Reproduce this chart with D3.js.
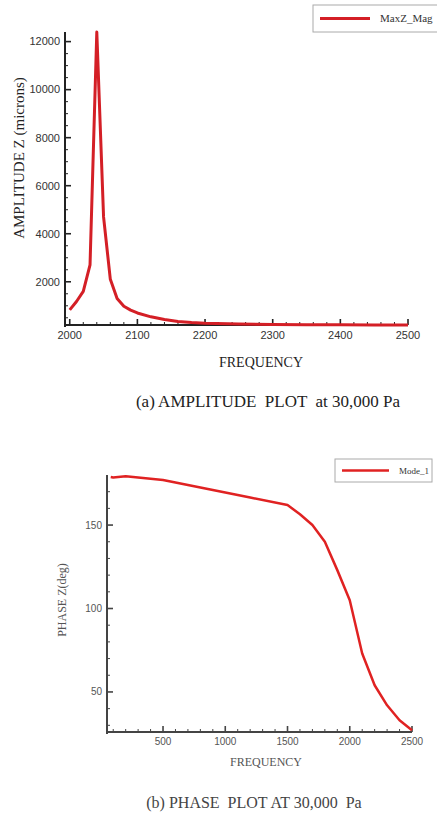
<!DOCTYPE html>
<html>
<head>
    <meta charset="utf-8">
    <script src="https://d3js.org/d3.v7.min.js"></script>
    <style>
        body { margin: 0; background: #fff; }
        .tick-label { font-family: "Liberation Sans", Arial, sans-serif; }
        .title { font-family: "Liberation Serif", serif; }
    </style>
</head>
<body>
    <script>
        // (a) amplitude data
        const ampFreq = [2000, 2010, 2020, 2030, 2040, 2050, 2060, 2070, 2080, 2090, 2100, 2120, 2140, 2160, 2180, 2200, 2250, 2300, 2350, 2400, 2450, 2500];
        const ampValue = [830, 1180, 1600, 2700, 12400, 4700, 2100, 1300, 980, 820, 700, 540, 430, 350, 300, 270, 240, 225, 215, 210, 205, 200];
        const ampXTicks = [2000, 2100, 2200, 2300, 2400, 2500];
        const ampYTicks = [2000, 4000, 6000, 8000, 10000, 12000];

        // (b) phase data
        const phaseFreq = [80, 100, 200, 500, 800, 1000, 1200, 1500, 1600, 1700, 1800, 1900, 2000, 2100, 2200, 2300, 2400, 2500];
        const phaseValue = [178.8, 178.5, 179.3, 177, 172.5, 169.5, 166.5, 162, 156.5, 150, 140, 123, 105, 73, 54, 42, 33, 27];
        const phaseXTicks = [500, 1000, 1500, 2000, 2500];
        const phaseYTicks = [50, 100, 150];

        const serif = "'Liberation Serif', 'Times New Roman', serif";

        const svg = d3.select("body").append("svg")
            .attr("width", 437)
            .attr("height", 814);

        function drawPanel(o) {
            const g = svg.append("g");
            const x = d3.scaleLinear().domain(o.xDomain).range(o.xRange);
            const y = d3.scaleLinear().domain(o.yDomain).range(o.yRange);
            const x0 = o.xRange[0], y0 = o.yRange[0];

            // minor ticks
            g.selectAll(".xminor").data(o.xMinor).enter().append("line")
                .attr("x1", d => x(d)).attr("x2", d => x(d))
                .attr("y1", y0).attr("y2", y0 - 3)
                .attr("stroke", o.axisColor).attr("stroke-width", 1);
            g.selectAll(".yminor").data(o.yMinor).enter().append("line")
                .attr("x1", x0).attr("x2", x0 + 3)
                .attr("y1", d => y(d)).attr("y2", d => y(d))
                .attr("stroke", o.axisColor).attr("stroke-width", 1);

            // major ticks
            g.selectAll(".xmajor").data(o.xTicks).enter().append("line")
                .attr("x1", d => x(d)).attr("x2", d => x(d))
                .attr("y1", y0).attr("y2", y0 - 6)
                .attr("stroke", o.axisColor).attr("stroke-width", 1.6);
            g.selectAll(".ymajor").data(o.yTicks).enter().append("line")
                .attr("x1", x0).attr("x2", x0 + 6)
                .attr("y1", d => y(d)).attr("y2", d => y(d))
                .attr("stroke", o.axisColor).attr("stroke-width", 1.6);

            // axis lines
            g.append("line")
                .attr("x1", x0).attr("x2", o.xRange[1])
                .attr("y1", y0).attr("y2", y0)
                .attr("stroke", o.axisColor).attr("stroke-width", 2);
            g.append("line")
                .attr("x1", x0).attr("x2", x0)
                .attr("y1", y0 + 2).attr("y2", o.yRange[1])
                .attr("stroke", o.axisColor).attr("stroke-width", 2);

            // tick labels
            g.selectAll(".xlab").data(o.xTicks).enter().append("text")
                .attr("class", "tick-label")
                .attr("x", d => x(d)).attr("y", y0 + o.tickFont + 3)
                .attr("text-anchor", "middle")
                .attr("font-size", o.tickFont)
                .attr("fill", o.tickColor)
                .text(d => d);
            g.selectAll(".ylab").data(o.yTicks).enter().append("text")
                .attr("class", "tick-label")
                .attr("x", x0 - 5).attr("y", d => y(d) + o.tickFont * 0.35)
                .attr("text-anchor", "end")
                .attr("font-size", o.tickFont)
                .attr("fill", o.tickColor)
                .text(d => d);

            // data line
            const line = d3.line()
                .x((d, i) => x(o.xs[i]))
                .y(d => y(d));
            g.append("path")
                .datum(o.ys)
                .attr("d", line)
                .attr("fill", "none")
                .attr("stroke", o.lineColor)
                .attr("stroke-width", o.lineWidth)
                .attr("stroke-linejoin", "round");

            // titles
            g.append("text")
                .style("font-family", serif)
                .attr("x", o.xTitle[0]).attr("y", o.xTitle[1])
                .attr("text-anchor", "middle")
                .attr("font-size", o.xTitle[2])
                .attr("fill", o.titleColor)
                .text("FREQUENCY");
            g.append("text")
                .style("font-family", serif)
                .attr("transform", `translate(${o.yTitle[0]},${o.yTitle[1]}) rotate(-90)`)
                .attr("text-anchor", "middle")
                .attr("font-size", o.yTitle[2])
                .attr("fill", o.titleColor)
                .text(o.yLabel);
            g.append("text")
                .style("font-family", serif)
                .style("white-space", "pre")
                .attr("x", o.caption[0]).attr("y", o.caption[1])
                .attr("text-anchor", "middle")
                .attr("font-size", o.caption[2])
                .attr("fill", o.captionColor)
                .text(o.captionText);

            // legend
            const L = o.legend;
            g.append("rect")
                .attr("x", L.x).attr("y", L.y)
                .attr("width", L.w).attr("height", L.h)
                .attr("fill", "#fff").attr("stroke", "#aaa").attr("stroke-width", 1);
            g.append("line")
                .attr("x1", L.x + 7).attr("x2", L.x + 7 + L.lineLen)
                .attr("y1", L.y + L.h / 2).attr("y2", L.y + L.h / 2)
                .attr("stroke", o.lineColor).attr("stroke-width", o.lineWidth);
            g.append("text")
                .style("font-family", serif)
                .attr("x", L.x + L.lineLen + 17).attr("y", L.y + L.h / 2 + L.font * 0.35)
                .attr("font-size", L.font)
                .attr("fill", "#333")
                .text(L.text);
        }

        drawPanel({
            xs: ampFreq, ys: ampValue,
            xDomain: [1993, 2500], xRange: [65, 408],
            yDomain: [200, 12400], yRange: [325, 32],
            xTicks: ampXTicks, yTicks: ampYTicks,
            xMinor: d3.range(2020, 2500, 20).filter(v => v % 100 !== 0),
            yMinor: d3.range(500, 12400, 500).filter(v => v % 2000 !== 0),
            axisColor: "#222", tickColor: "#333", tickFont: 11,
            lineColor: "#d41f26", lineWidth: 3,
            titleColor: "#222", captionColor: "#222",
            xTitle: [261, 367, 14],
            yTitle: [24, 158, 15], yLabel: "AMPLITUDE Z (microns)",
            caption: [268, 407, 17], captionText: "(a) AMPLITUDE  PLOT  at 30,000 Pa",
            legend: { x: 313, y: 5, w: 130, h: 27, lineLen: 50, font: 11, text: "MaxZ_Mag" }
        });

        drawPanel({
            xs: phaseFreq, ys: phaseValue,
            xDomain: [50, 2500], xRange: [107, 412],
            yDomain: [26, 180], yRange: [732, 475],
            xTicks: phaseXTicks, yTicks: phaseYTicks,
            xMinor: d3.range(100, 2500, 100).filter(v => v % 500 !== 0),
            yMinor: d3.range(30, 180, 10).filter(v => v % 50 !== 0),
            axisColor: "#444", tickColor: "#555", tickFont: 10,
            lineColor: "#e02222", lineWidth: 2.5,
            titleColor: "#555", captionColor: "#444",
            xTitle: [266, 766, 12],
            yTitle: [66, 600, 12], yLabel: "PHASE Z(deg)",
            caption: [254, 808, 16], captionText: "(b) PHASE  PLOT AT 30,000  Pa",
            legend: { x: 335, y: 459, w: 97, h: 23, lineLen: 47, font: 9, text: "Mode_1" }
        });
    </script>
</body>
</html>
